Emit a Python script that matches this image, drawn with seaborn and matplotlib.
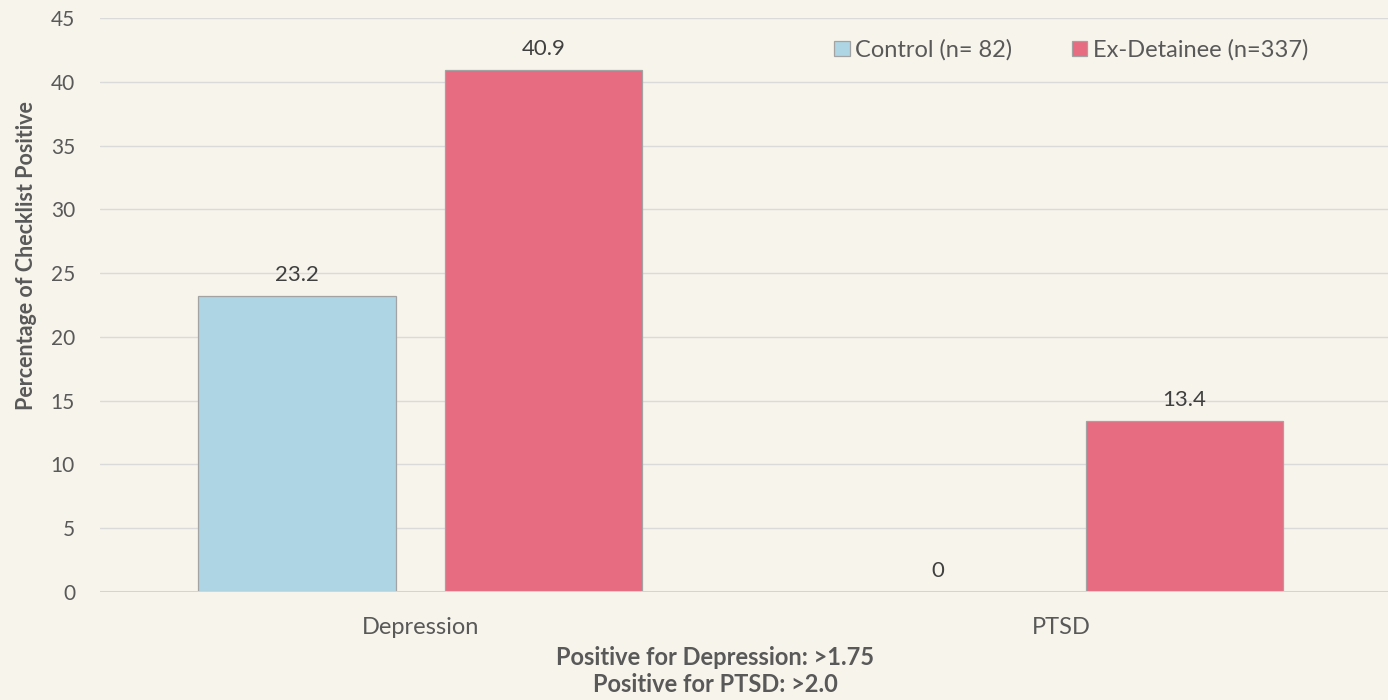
import matplotlib
matplotlib.use("Agg")
import matplotlib.pyplot as plt
import seaborn as sns
import pandas as pd

# Screening results by group
categories = ["Depression", "PTSD"]
groups = ["Control (n= 82)", "Ex-Detainee (n=337)"]
control_pct = [23.2, 0]
detainee_pct = [40.9, 13.4]
y_ticks = [0, 5, 10, 15, 20, 25, 30, 35, 40, 45]

df = pd.DataFrame({
    "Condition": categories * 2,
    "Group": [groups[0]] * len(categories) + [groups[1]] * len(categories),
    "Percent": control_pct + detainee_pct,
})

BG = "#F7F4EC"
TEXT = "#595959"
palette = {groups[0]: "#ADD5E3", groups[1]: "#E76C81"}

sns.set_theme(style="white")
plt.rcParams["font.family"] = ["Lato", "DejaVu Sans"]

fig = plt.figure(figsize=(13.88, 7.0), dpi=100, facecolor=BG)
ax = fig.add_axes([100 / 1388, 1 - 592 / 700, 1 - 100 / 1388, (592 - 18) / 700])
ax.set_facecolor(BG)

sns.barplot(data=df, x="Condition", y="Percent", hue="Group", hue_order=groups,
            order=categories, palette=palette, saturation=1, width=0.77, gap=0.2,
            edgecolor="#a3a3a3", linewidth=0.9, ax=ax, zorder=3)

for cont in ax.containers:
    ax.bar_label(cont, labels=[f"{v:g}" for v in cont.datavalues], padding=8,
                 fontsize=16, color="#404040")

ax.set_ylim(0, 45)
ax.set_xlim(-0.5, 1.51)
ax.set_yticks(y_ticks)
ax.set_yticklabels([str(t) for t in y_ticks], fontsize=15, color=TEXT)
ax.tick_params(axis="x", labelsize=17, labelcolor=TEXT, length=0, pad=18)
ax.tick_params(axis="y", length=0, pad=18)
ax.set_xlabel("")
ax.set_ylabel("")
for s in ax.spines.values():
    s.set_visible(False)
for t in y_ticks[1:]:
    ax.axhline(t, color="#DADADA", lw=1.0, zorder=0)
ax.axhline(0, color="#D4D4D4", lw=2.2, zorder=4)

handles, labels = ax.get_legend_handles_labels()
ax.legend(handles, labels, ncol=2, loc="center right",
          bbox_to_anchor=(1320 / 1388, 1 - 50 / 700), bbox_transform=fig.transFigure,
          frameon=False, fontsize=17, labelcolor=TEXT, handlelength=0.65,
          handleheight=0.65, handletextpad=0.25, columnspacing=2.5, borderpad=0)

fig.text(27 / 1388, 1 - 256 / 700, "Percentage of Checklist Positive", rotation=90,
         ha="center", va="center", fontsize=15.5, fontweight="bold", color=TEXT)
fig.text(715 / 1388, 1 - 671 / 700, "Positive for Depression: >1.75\nPositive for PTSD: >2.0",
         ha="center", va="center", multialignment="center", fontsize=17,
         fontweight="bold", color=TEXT, linespacing=1.2)

fig.savefig("out.png", dpi=100, facecolor=BG)
